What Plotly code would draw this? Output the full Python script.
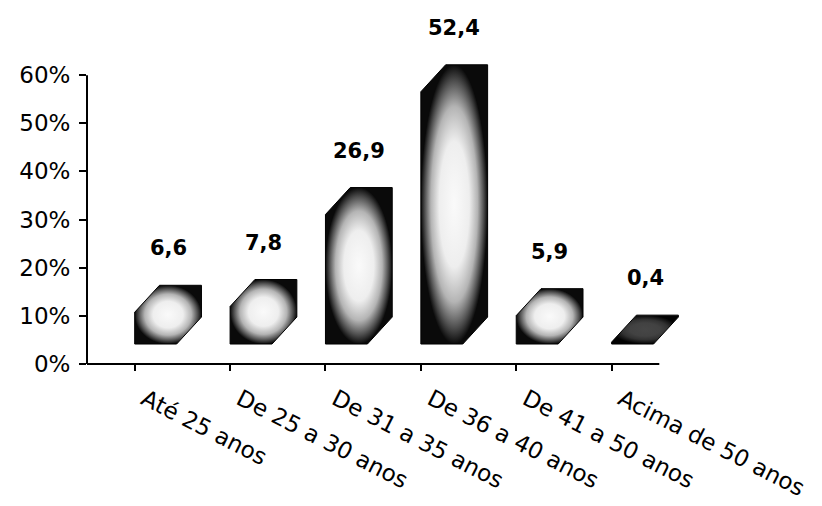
import plotly.graph_objects as go

# Faixas etárias e percentuais
categorias = ["Até 25 anos", "De 25 a 30 anos", "De 31 a 35 anos",
              "De 36 a 40 anos", "De 41 a 50 anos", "Acima de 50 anos"]
percentuais = [6.6, 7.8, 26.9, 52.4, 5.9, 0.4]
ticks_y = [0, 10, 20, 30, 40, 50, 60]
rotulos_y = ["0%", "10%", "20%", "30%", "40%", "50%", "60%"]

# Geometria das colunas em perspectiva (unidades dos eixos)
LARGURA = 0.44      # largura da face frontal (em categorias)
PROF_X = 0.26       # deslocamento da face de trás em x
PROF_Y = 5.6        # deslocamento da face de trás em y (%)
BASE = 4.15         # piso da perspectiva (%)

FONTE = "DejaVu Sans, Liberation Sans, Arial, sans-serif"


def escala_cinza(v):
    # brilho do centro depende da altura da face frontal
    f = min(1.0, 0.2 + v / 5.0)
    paradas = [(0.0, 250), (0.45, 238), (0.7, 180), (0.88, 80), (1.0, 10)]
    return [[p, "rgb({0},{0},{0})".format(int(c * f))] for p, c in paradas]


fig = go.Figure()

for i, v in enumerate(percentuais):
    x0 = i
    x1 = i + LARGURA
    topo = BASE + v
    xs = [x0, x1, x1 + PROF_X, x1 + PROF_X, x0 + PROF_X, x0, x0]
    ys = [BASE, BASE, BASE + PROF_Y, topo + PROF_Y, topo + PROF_Y, topo, BASE]
    fig.add_trace(go.Scatter(
        x=xs, y=ys, mode="lines", fill="toself",
        line=dict(color="black", width=1),
        fillgradient=dict(type="radial", colorscale=escala_cinza(v)),
        hoverinfo="skip", showlegend=False,
    ))
    fig.add_annotation(
        x=i + (LARGURA + PROF_X) / 2, y=topo + PROF_Y,
        text="<b>" + f"{v:.1f}".replace(".", ",") + "</b>",
        showarrow=False, yanchor="middle", yshift=37,
        font=dict(family=FONTE, size=21, color="black"),
    )

# linhas dos eixos: vertical de 0% a 60%, horizontal sob as seis categorias
fig.add_shape(type="line", xref="paper", yref="y", x0=0, x1=0, y0=0, y1=60,
              line=dict(color="black", width=2))
fig.add_shape(type="line", xref="x", yref="paper", x0=-0.5, x1=len(categorias) - 0.5,
              y0=0, y1=0, line=dict(color="black", width=2))

fig.update_layout(
    width=822, height=506,
    margin=dict(l=87, r=115, t=27, b=142),
    paper_bgcolor="white", plot_bgcolor="white",
    font=dict(family=FONTE, color="black"),
    xaxis=dict(
        range=[-0.5, 6.0], tickmode="array",
        tickvals=list(range(len(categorias))), ticktext=categorias,
        tickangle=27, ticks="outside", tickson="boundaries",
        ticklen=6, tickwidth=2, tickcolor="black",
        ticklabelshift=10, ticklabelstandoff=6,
        showline=False, showgrid=False, zeroline=False, automargin=False,
        tickfont=dict(family=FONTE, size=23, color="black"),
    ),
    yaxis=dict(
        range=[0, 70], tickmode="array", tickvals=ticks_y, ticktext=rotulos_y,
        ticks="outside", ticklen=7, tickwidth=2, tickcolor="black",
        showline=False, showgrid=False, zeroline=False, automargin=False,
        ticklabelstandoff=4,
        tickfont=dict(family=FONTE, size=23, color="black"),
    ),
)

fig.write_html("out.html")
